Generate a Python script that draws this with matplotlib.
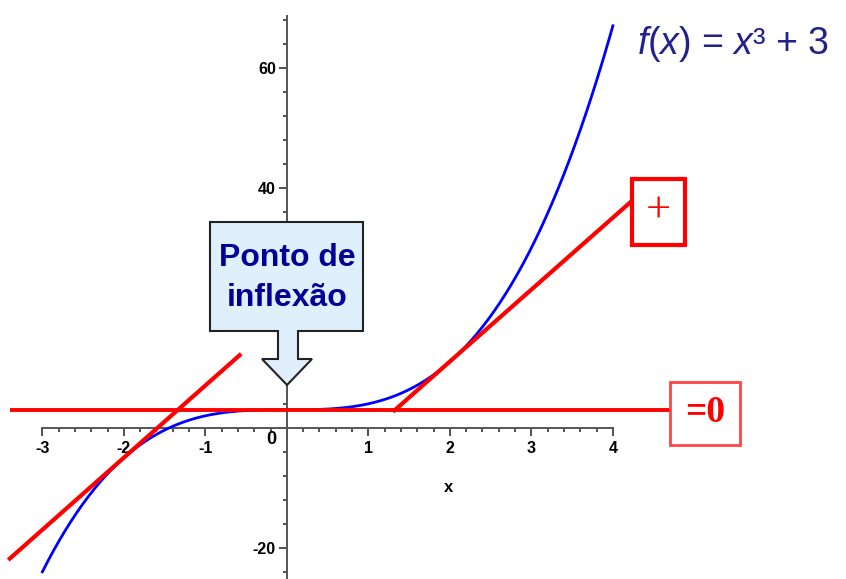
import numpy as np
import matplotlib
matplotlib.use("Agg")
import matplotlib.pyplot as plt
from matplotlib.patches import Rectangle, Polygon
from matplotlib.ticker import FixedLocator

W, H = 846, 579

# dados
x_ini, x_fim = -3, 4
xs = np.linspace(x_ini, x_fim, 400)
ys = xs**3 + 3

# tangentes (pontos extremos)
tang_esq_x = [-3.40, -0.58]
tang_esq_y = [-21.8, 12.1]
tang_dir_x = [1.32, 4.24]
tang_dir_y = [2.9, 37.9]
horiz_x = [-3.40, 4.70]
horiz_y = [3, 3]

x_ticks = [-3, -2, -1, 1, 2, 3, 4]
y_ticks = [-20, 40, 60]
y_ticks_sem_rotulo = [0, 20]

plt.rcParams['mathtext.fontset'] = 'custom'
plt.rcParams['mathtext.rm'] = 'Liberation Sans'
plt.rcParams['mathtext.it'] = 'Liberation Sans:italic'

fig = plt.figure(figsize=(W/100, H/100), dpi=100)
ax = fig.add_axes([0, 0, 1, 1])
ax.set_xlim(-3.52, 6.86)
ax.set_ylim(-25.2, 71.3)

# eixos estilo Maple
for s in ['top', 'right']:
    ax.spines[s].set_visible(False)
ax.spines['left'].set_position(('data', 0))
ax.spines['bottom'].set_position(('data', 0))
ax.spines['left'].set_bounds(-26, 68.7)
ax.spines['bottom'].set_bounds(-3, 4)
for s in ['left', 'bottom']:
    ax.spines[s].set_color('#555555')
    ax.spines[s].set_linewidth(1.4)

ax.xaxis.set_major_locator(FixedLocator(x_ticks + [0]))
ax.xaxis.set_minor_locator(FixedLocator(np.arange(-3, 4.01, 0.2)))
ax.yaxis.set_major_locator(FixedLocator(y_ticks + y_ticks_sem_rotulo))
ax.yaxis.set_minor_locator(FixedLocator(np.arange(-24, 69, 4)))
ax.set_xticklabels([str(t) for t in x_ticks] + [''])
ax.set_yticklabels([str(t) for t in y_ticks] + ['', ''])
ax.tick_params(axis='both', which='major', length=6, width=1.2, color='#333333',
               labelsize=11.5)
ax.tick_params(axis='both', which='minor', length=3, width=1.2, color='#333333')
ax.tick_params(axis='y', pad=2)
for lab in ax.get_xticklabels() + ax.get_yticklabels():
    lab.set_fontweight('bold')
    lab.set_family('Liberation Sans')

fig.text(271/W, 1 - 440/H, '0', fontsize=13, fontweight='bold',
         family='Liberation Sans', ha='center', va='center')
fig.text(449/W, 1 - 488/H, 'x', fontsize=12, fontweight='bold',
         family='Liberation Sans', ha='center', va='center')

# curva e retas
ax.plot(xs, ys, color='#0000ff', lw=2, zorder=3)
ax.plot(horiz_x, horiz_y, color='#ff0000', lw=2.8, zorder=4, solid_capstyle='butt')
ax.plot(tang_esq_x, tang_esq_y, color='#ff0000', lw=3, zorder=4)
ax.plot(tang_dir_x, tang_dir_y, color='#ff0000', lw=3, zorder=4)

# titulo da funcao
fig.text(637/W, 1 - 44/H, r'$\mathit{f}$($\mathit{x}$) = $\mathit{x}$³ + 3',
         fontsize=27, color='#22228c', family='Liberation Sans',
         ha='left', va='center')

def fr(px, py):
    return (px/W, 1 - py/H)

# caixas vermelhas
fig.patches.append(Rectangle(fr(632, 245), 53/W, 66/H, transform=fig.transFigure,
                             facecolor='white', edgecolor='#ff0000', lw=3, zorder=5))
fig.text(658/W, 1 - 211/H, '+', fontsize=32, color='#ff0000',
         family='Liberation Serif', ha='center', va='center', zorder=6)
fig.patches.append(Rectangle(fr(670, 445), 70/W, 63/H, transform=fig.transFigure,
                             facecolor='white', edgecolor='#ff4444', lw=2, zorder=5))
fig.text(705/W, 1 - 413/H, '=0', fontsize=27, color='#ff0000', fontweight='bold',
         family='Liberation Serif', ha='center', va='center', zorder=6)

# callout ponto de inflexao
pts = [(210, 222), (363, 222), (363, 331), (298, 331), (298, 359), (312, 359),
       (287, 385), (262, 359), (278, 359), (278, 331), (210, 331)]
fig.patches.append(Polygon([fr(px, py) for px, py in pts], closed=True,
                           transform=fig.transFigure, facecolor='#dff0fc',
                           edgecolor='#222222', lw=1.5, zorder=5))
fig.text(287/W, 1 - 278/H, 'Ponto de\ninflexão', fontsize=23, fontweight='bold',
         color='#000099', family='Liberation Sans', ha='center', va='center',
         linespacing=1.45, zorder=6)

fig.savefig('out.png', dpi=100)
